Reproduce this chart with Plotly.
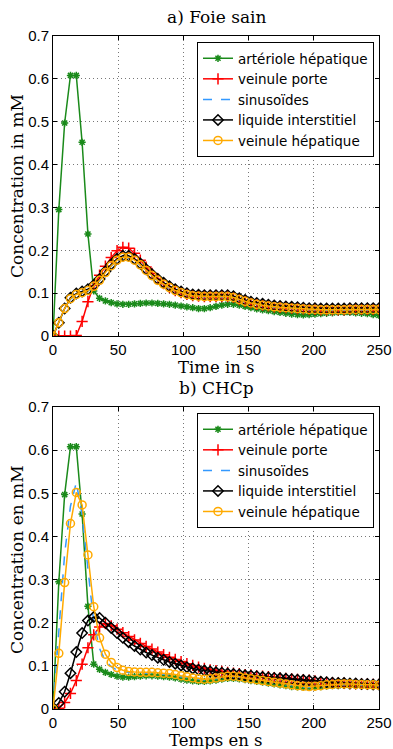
import plotly.graph_objects as go

# ---------------- data ----------------
t = [0, 4.46, 8.93, 13.39, 17.86, 22.32, 26.79, 31.25, 35.71, 40.18, 44.64, 49.11,
     53.57, 58.04, 62.5, 66.96, 71.43, 75.89, 80.36, 84.82, 89.29, 93.75, 98.21,
     102.68, 107.14, 111.61, 116.07, 120.54, 125, 129.46, 133.93, 138.39, 142.86,
     147.32, 151.79, 156.25, 160.71, 165.18, 169.64, 174.11, 178.57, 183.04, 187.5,
     191.96, 196.43, 200.89, 205.36, 209.82, 214.29, 218.75, 223.21, 227.68, 232.14,
     236.61, 241.07, 245.54, 250]

# a) Foie sain
a_arteriole = [0, 0.295, 0.497, 0.608, 0.608, 0.452, 0.238, 0.105, 0.088, 0.082, 0.078, 0.075,
               0.074, 0.074, 0.075, 0.076, 0.077, 0.077, 0.076, 0.075, 0.074, 0.072, 0.070,
               0.068, 0.066, 0.064, 0.064, 0.066, 0.069, 0.072, 0.074, 0.074, 0.072, 0.069,
               0.066, 0.063, 0.061, 0.059, 0.057, 0.055, 0.053, 0.051, 0.050, 0.049, 0.050,
               0.051, 0.052, 0.053, 0.054, 0.055, 0.055, 0.055, 0.054, 0.053, 0.052, 0.050, 0.048]
a_porte = [0, 0, 0, 0, 0.001, 0.034, 0.080, 0.118, 0.142, 0.163, 0.183, 0.199,
           0.207, 0.205, 0.193, 0.177, 0.161, 0.146, 0.133, 0.122, 0.113, 0.106, 0.101,
           0.097, 0.094, 0.093, 0.092, 0.092, 0.092, 0.092, 0.092, 0.090, 0.085, 0.081,
           0.077, 0.074, 0.072, 0.070, 0.068, 0.067, 0.066, 0.065, 0.064, 0.063, 0.062,
           0.062, 0.061, 0.061, 0.061, 0.061, 0.061, 0.062, 0.062, 0.062, 0.062, 0.062, 0.062]
a_sinus = [0, 0.030, 0.063, 0.086, 0.096, 0.100, 0.105, 0.115, 0.129, 0.147, 0.163, 0.176,
           0.183, 0.183, 0.176, 0.165, 0.152, 0.140, 0.129, 0.120, 0.112, 0.105, 0.100,
           0.096, 0.093, 0.092, 0.091, 0.091, 0.091, 0.091, 0.091, 0.089, 0.084, 0.080,
           0.076, 0.073, 0.071, 0.069, 0.067, 0.066, 0.065, 0.064, 0.063, 0.062, 0.061,
           0.061, 0.060, 0.060, 0.060, 0.060, 0.060, 0.061, 0.061, 0.061, 0.061, 0.061, 0.061]
a_interstitiel = [0, 0.031, 0.064, 0.089, 0.099, 0.104, 0.109, 0.119, 0.133, 0.151, 0.167, 0.180,
                  0.187, 0.187, 0.180, 0.169, 0.156, 0.144, 0.133, 0.124, 0.116, 0.109, 0.104,
                  0.100, 0.097, 0.096, 0.095, 0.095, 0.095, 0.095, 0.095, 0.093, 0.088, 0.084,
                  0.080, 0.077, 0.075, 0.073, 0.071, 0.070, 0.069, 0.068, 0.067, 0.066, 0.065,
                  0.065, 0.064, 0.064, 0.064, 0.064, 0.064, 0.065, 0.065, 0.065, 0.065, 0.065, 0.065]
a_hepatique = [0, 0.031, 0.064, 0.087, 0.097, 0.101, 0.106, 0.116, 0.130, 0.148, 0.164, 0.177,
               0.184, 0.184, 0.177, 0.166, 0.153, 0.141, 0.130, 0.121, 0.113, 0.106, 0.101,
               0.097, 0.094, 0.093, 0.092, 0.092, 0.092, 0.092, 0.092, 0.090, 0.085, 0.081,
               0.077, 0.074, 0.072, 0.070, 0.068, 0.067, 0.066, 0.065, 0.064, 0.063, 0.062,
               0.062, 0.061, 0.061, 0.061, 0.061, 0.061, 0.062, 0.062, 0.062, 0.062, 0.062, 0.062]

# b) CHCp
b_arteriole = [0, 0.295, 0.497, 0.608, 0.608, 0.452, 0.238, 0.104, 0.092, 0.085, 0.080, 0.076,
               0.074, 0.074, 0.075, 0.076, 0.077, 0.077, 0.076, 0.075, 0.074, 0.072, 0.069,
               0.067, 0.065, 0.064, 0.064, 0.065, 0.067, 0.069, 0.071, 0.071, 0.070, 0.068,
               0.066, 0.064, 0.062, 0.060, 0.058, 0.056, 0.054, 0.052, 0.051, 0.050, 0.050,
               0.051, 0.052, 0.053, 0.054, 0.054, 0.055, 0.055, 0.055, 0.055, 0.055, 0.054, 0.054]
b_porte = [0, 0.002, 0.015, 0.036, 0.066, 0.104, 0.142, 0.172, 0.190, 0.198, 0.193, 0.185,
           0.177, 0.168, 0.160, 0.152, 0.145, 0.139, 0.132, 0.126, 0.120, 0.115, 0.110,
           0.105, 0.101, 0.097, 0.094, 0.091, 0.089, 0.087, 0.085, 0.083, 0.082, 0.080,
           0.079, 0.077, 0.076, 0.075, 0.073, 0.072, 0.071, 0.070, 0.069, 0.068, 0.067,
           0.065, 0.063, 0.062, 0.061, 0.060, 0.060, 0.059, 0.059, 0.058, 0.058, 0.057, 0.057]
b_sinus = [0, 0.190, 0.360, 0.470, 0.525, 0.450, 0.320, 0.200, 0.140, 0.112, 0.098, 0.090,
           0.086, 0.085, 0.084, 0.083, 0.083, 0.083, 0.082, 0.081, 0.080, 0.078, 0.075,
           0.073, 0.070, 0.068, 0.067, 0.068, 0.070, 0.072, 0.074, 0.074, 0.073, 0.070,
           0.068, 0.066, 0.064, 0.062, 0.060, 0.058, 0.056, 0.054, 0.052, 0.051, 0.050,
           0.051, 0.052, 0.054, 0.055, 0.056, 0.056, 0.056, 0.056, 0.056, 0.055, 0.055, 0.054]
b_interstitiel = [0, 0.014, 0.040, 0.083, 0.132, 0.176, 0.205, 0.213, 0.211, 0.200, 0.188, 0.176,
                  0.165, 0.155, 0.146, 0.138, 0.131, 0.125, 0.119, 0.114, 0.109, 0.105, 0.101,
                  0.097, 0.094, 0.091, 0.089, 0.087, 0.085, 0.084, 0.082, 0.081, 0.080, 0.078,
                  0.077, 0.076, 0.074, 0.073, 0.072, 0.071, 0.070, 0.069, 0.068, 0.067, 0.066,
                  0.064, 0.063, 0.062, 0.061, 0.060, 0.060, 0.059, 0.059, 0.058, 0.058, 0.057, 0.057]
b_hepatique = [0, 0.129, 0.293, 0.430, 0.502, 0.473, 0.357, 0.237, 0.165, 0.127, 0.108, 0.096,
               0.090, 0.087, 0.086, 0.085, 0.085, 0.085, 0.084, 0.083, 0.082, 0.080, 0.077,
               0.075, 0.072, 0.070, 0.069, 0.070, 0.072, 0.074, 0.076, 0.076, 0.075, 0.072,
               0.070, 0.068, 0.066, 0.064, 0.062, 0.060, 0.058, 0.056, 0.054, 0.053, 0.052,
               0.053, 0.054, 0.056, 0.057, 0.058, 0.058, 0.058, 0.057, 0.057, 0.056, 0.056, 0.055]

names = ["artériole hépatique", "veinule porte", "sinusoïdes",
         "liquide interstitiel", "veinule hépatique"]
y_ticks = [0, 0.1, 0.2, 0.3, 0.4, 0.5, 0.6, 0.7]
y_ticklabels = ["0", "0.1", "0.2", "0.3", "0.4", "0.5", "0.6", "0.7"]
x_ticks = [0, 50, 100, 150, 200, 250]

# ---------------- styles ----------------
styles = [
    dict(color="#1a8a1a", dash="solid", symbol="asterisk-open", size=6),
    dict(color="#ff0000", dash="solid", symbol="cross-thin-open", size=8),
    dict(color="#3399ff", dash="dash", symbol=None, size=0),
    dict(color="#000000", dash="solid", symbol="diamond-open", size=8),
    dict(color="#ffaa00", dash="solid", symbol="circle-open", size=8),
]

fig = go.Figure()

def add_panel(series, xa, ya, legend):
    for name, ys, st in zip(names, series, styles):
        if st["symbol"] is None:
            mode = "lines"
            marker = None
        else:
            mode = "lines+markers"
            marker = dict(symbol=st["symbol"], size=st["size"], color=st["color"],
                          line=dict(color=st["color"], width=1.5))
        fig.add_trace(go.Scatter(
            x=t, y=ys, name=name, mode=mode, marker=marker,
            line=dict(color=st["color"], width=1.5, dash=st["dash"]),
            xaxis=xa, yaxis=ya, legend=legend, showlegend=True))

add_panel([a_arteriole, a_porte, a_sinus, a_interstitiel, a_hepatique], "x", "y", "legend")
add_panel([b_arteriole, b_porte, b_sinus, b_interstitiel, b_hepatique], "x2", "y2", "legend2")

tickfont = dict(family="Liberation Sans, Arial, sans-serif", size=15, color="black")
serif = dict(family="DejaVu Serif, serif", size=17, color="black")
serif_x = dict(family="DejaVu Serif, serif", size=16.5, color="black")

axis_common = dict(showline=True, linecolor="black", linewidth=1, mirror="ticks",
                   ticks="inside", ticklen=4, tickcolor="black", automargin=False,
                   showgrid=True, gridcolor="#777777", griddash="1px,3px", gridwidth=1,
                   zeroline=False, tickfont=tickfont)

W, H = 393, 749
PL, PR, PT, PB = 53, 379, 36, 709          # plot area in window pixels
PH = PB - PT

top_dom = [(PB - 336) / PH, 1.0]
bot_dom = [0.0, (PB - 407) / PH]

def px(xw):
    return (xw - PL) / (PR - PL)

def py(yw):
    return (PB - yw) / PH

legend_common = dict(bgcolor="white", bordercolor="black", borderwidth=1,
                     font=dict(family="DejaVu Sans, sans-serif", size=13.5, color="black"),
                     xanchor="right", yanchor="top", tracegroupgap=0, itemwidth=30)

fig.update_layout(
    width=W, height=H,
    margin=dict(l=PL, r=W - PR, t=PT, b=H - PB, autoexpand=False),
    paper_bgcolor="white", plot_bgcolor="white",
    xaxis=dict(domain=[0, 1], range=[0, 250], tickvals=x_ticks, anchor="y", **axis_common),
    yaxis=dict(domain=top_dom, range=[0, 0.7], tickvals=y_ticks, ticktext=y_ticklabels,
               anchor="x", **axis_common),
    xaxis2=dict(domain=[0, 1], range=[0, 250], tickvals=x_ticks, anchor="y2", **axis_common),
    yaxis2=dict(domain=bot_dom, range=[0, 0.7], tickvals=y_ticks, ticktext=y_ticklabels,
                anchor="x2", **axis_common),
    legend=dict(x=px(374), y=py(42), **legend_common),
    legend2=dict(x=px(374), y=py(413), **legend_common),
    annotations=[
        dict(text="a) Foie sain", x=px(216), y=py(17), xref="paper", yref="paper",
             showarrow=False, font=serif, xanchor="center", yanchor="middle"),
        dict(text="b) CHCp", x=px(216), y=py(388), xref="paper", yref="paper",
             showarrow=False, font=serif, xanchor="center", yanchor="middle"),
        dict(text="Time in s", x=px(216), y=py(367), xref="paper", yref="paper",
             showarrow=False, font=serif_x, xanchor="center", yanchor="middle"),
        dict(text="Temps en s", x=px(216), y=py(740), xref="paper", yref="paper",
             showarrow=False, font=serif_x, xanchor="center", yanchor="middle"),
        dict(text="Concentration in mM", x=px(17), y=py(186), xref="paper", yref="paper",
             textangle=-90, showarrow=False, font=serif, xanchor="center", yanchor="middle"),
        dict(text="Concentration en mM", x=px(17), y=py(560), xref="paper", yref="paper",
             textangle=-90, showarrow=False, font=serif, xanchor="center", yanchor="middle"),
    ],
)

fig.write_html("out.html", config={"displayModeBar": False},
               post_script="document.body.style.margin='0px';")
